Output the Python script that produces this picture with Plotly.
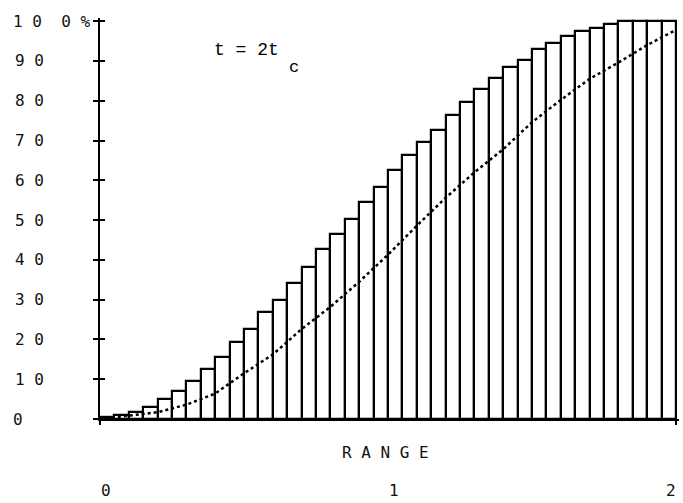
import plotly.graph_objects as go

# ---- data ----
n_bins = 40
bin_width = 0.05
bin_centers = [bin_width / 2 + bin_width * i for i in range(n_bins)]
bar_pct = [0.4, 1.0, 1.8, 2.9, 5.0, 7.0, 9.5, 12.6, 15.5, 19.3,
           22.5, 26.8, 29.9, 34.1, 38.1, 42.7, 46.5, 50.4, 54.6, 58.4,
           62.6, 66.3, 69.7, 72.6, 76.3, 79.8, 82.9, 85.6, 88.4, 90.2,
           92.9, 94.4, 96.2, 97.6, 98.2, 99.4, 100, 100, 100, 100]

curve_range = [0.0, 0.1, 0.2, 0.3, 0.4, 0.5, 0.6, 0.7, 0.8, 0.9, 1.0,
               1.1, 1.2, 1.3, 1.4, 1.5, 1.6, 1.7, 1.8, 1.9, 2.0]
curve_pct = [0, 0.8, 1.7, 3.6, 6.4, 11.5, 16.2, 22.6, 28.2, 34.5, 41.3,
             48.6, 55.6, 62.0, 67.8, 74.6, 80.2, 85.5, 89.6, 94.0, 97.8]

ytick_vals = [0, 10, 20, 30, 40, 50, 60, 70, 80, 90, 100]
ytick_text = ["0", "1 0", "2 0", "3 0", "4 0", "5 0", "6 0", "7 0", "8 0", "9 0", "1 0  0 %"]
xtick_vals = [0, 1, 2]
xtick_text = ["0", "1", "2"]
x_title = "R A N G E"
note_main = "t = 2t"
note_sub = "c"

# ---- layout geometry ----
W, H = 683, 503
L, R, T, B = 100, 4, 18, 84
pw = W - L - R
ph = H - T - B
xmax = 2.0104
ymax = 100.8


def px_to_paper_x(px):
    return (px - L) / pw


def px_to_paper_y(py):
    return (H - B - py) / ph


mono = "DejaVu Sans Mono"
ink = "#111111"

fig = go.Figure()

fig.add_trace(go.Bar(
    x=bin_centers, y=bar_pct, width=bin_width,
    marker=dict(color="white", line=dict(color="black", width=2.2)),
    showlegend=False, hoverinfo="skip",
))

fig.add_trace(go.Scatter(
    x=curve_range, y=curve_pct, mode="lines",
    line=dict(color="black", width=2.5, dash="dot"),
    yaxis="y2", showlegend=False, hoverinfo="skip",
))

annotations = []
for v, t in zip(ytick_vals, ytick_text):
    annotations.append(dict(
        x=px_to_paper_x(11 if v in (0, 100) else 13), xref="paper",
        y=v, yref="y", text=t, showarrow=False, xanchor="left", yanchor="middle",
        font=dict(family=mono, size=16, color=ink),
    ))
for v, t in zip(xtick_vals, xtick_text):
    last = v == xtick_vals[-1]
    annotations.append(dict(
        x=v, xref="x", y=px_to_paper_y(491), yref="paper", text=t, showarrow=False,
        xanchor="right" if last else "center", yanchor="middle",
        xshift=2 if last else 6,
        font=dict(family=mono, size=16, color=ink),
    ))
annotations.append(dict(
    x=px_to_paper_x(340), xref="paper", y=px_to_paper_y(452), yref="paper",
    text=x_title, showarrow=False, xanchor="left", yanchor="middle",
    font=dict(family=mono, size=16, color=ink),
))
annotations.append(dict(
    x=px_to_paper_x(212), xref="paper", y=px_to_paper_y(50), yref="paper",
    text=note_main, showarrow=False, xanchor="left", yanchor="middle",
    font=dict(family="Liberation Mono", size=18, color="black"),
))
annotations.append(dict(
    x=px_to_paper_x(294), xref="paper", y=px_to_paper_y(67), yref="paper",
    text=note_sub, showarrow=False, xanchor="center", yanchor="middle",
    font=dict(family="Liberation Mono", size=17, color="black"),
))

fig.update_layout(
    width=W, height=H,
    margin=dict(l=L, r=R, t=T, b=B, pad=0),
    paper_bgcolor="white", plot_bgcolor="white",
    bargap=0,
    xaxis=dict(range=[0, xmax], showgrid=False, zeroline=False,
               showline=True, linecolor="black", linewidth=2,
               tickvals=[0, 2], ticks="outside", ticklen=4, tickwidth=2,
               tickcolor="black", showticklabels=False),
    yaxis=dict(range=[0, ymax], showgrid=False, zeroline=False,
               showline=True, linecolor="black", linewidth=2,
               tickvals=ytick_vals, ticks="outside", ticklen=5, tickwidth=2,
               tickcolor="black", showticklabels=False),
    yaxis2=dict(range=[0, ymax], overlaying="y", side="left", anchor="x",
                showgrid=False, zeroline=False, showline=False,
                tickvals=ytick_vals, ticks="inside", ticklen=5, tickwidth=2,
                tickcolor="black", showticklabels=False),
    annotations=annotations,
)

fig.write_html("out.html")
